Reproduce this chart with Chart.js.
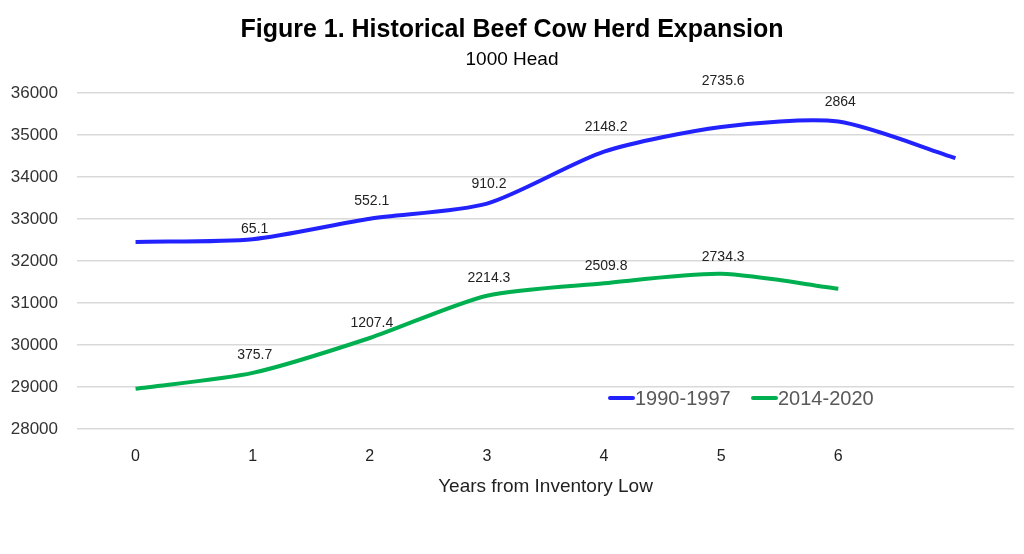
<!DOCTYPE html>
<html lang="en">
<head>
    <meta charset="UTF-8">
    <title>Historical Beef Cow Herd Expansion</title>
    <script src="https://cdn.jsdelivr.net/npm/chart.js"></script>
    <style>
        html, body { margin: 0; padding: 0; background: #fff; }
        #wrap { width: 1024px; height: 554px; position: relative; }
    </style>
</head>
<body>
    <div id="wrap"><canvas id="herdChart" width="1024" height="554"></canvas></div>

    <script>
        // years from inventory low (last category has no tick label)
        const years = ['0', '1', '2', '3', '4', '5', '6', ''];

        // 1000 head
        const herd1990 = [32455, 32520, 33007, 33365, 34603, 35191, 35319, 34450];
        const herd2014 = [28960, 29336, 30167, 31174, 31470, 31694, 31340];

        // growth from the low, shown above points
        const growth1990 = ['', '65.1', '552.1', '910.2', '2148.2', '2735.6', '2864', ''];
        const growth2014 = ['', '375.7', '1207.4', '2214.3', '2509.8', '2734.3', ''];

        const font = "'Liberation Sans', Arial, sans-serif";

        const headerPlugin = {
            id: 'header',
            afterDraw(chart) {
                const c = chart.ctx;
                c.save();
                c.fillStyle = '#000';
                c.textAlign = 'center';
                c.textBaseline = 'middle';
                c.font = "bold 25px " + font;
                c.fillText('Figure 1. Historical Beef Cow Herd Expansion', 512, 30);
                c.font = "19px " + font;
                c.fillText('1000 Head', 512, 60);

                // legend inside plot
                const items = [
                    { text: '1990-1997', color: '#2222ff', x: 610 },
                    { text: '2014-2020', color: '#00b050', x: 753 }
                ];
                c.font = "20px " + font;
                c.textAlign = 'left';
                items.forEach(it => {
                    c.strokeStyle = it.color;
                    c.lineWidth = 4;
                    c.lineCap = 'round';
                    c.beginPath();
                    c.moveTo(it.x, 398);
                    c.lineTo(it.x + 23, 398);
                    c.stroke();
                    c.fillStyle = '#595959';
                    c.fillText(it.text, it.x + 25, 399);
                });
                c.restore();
            }
        };

        const labelPlugin = {
            id: 'pointLabels',
            afterDatasetsDraw(chart, args, opts) {
                const c = chart.ctx;
                c.save();
                c.fillStyle = '#222';
                c.font = "14px " + font;
                c.textAlign = 'center';
                c.textBaseline = 'middle';
                chart.data.datasets.forEach((ds, i) => {
                    const meta = chart.getDatasetMeta(i);
                    meta.data.forEach((pt, j) => {
                        const txt = ds.growth[j];
                        const lift = (opts.lift[i] && opts.lift[i][j]) || 18;
                        if (txt) c.fillText(txt, pt.x + 2, pt.y - lift);
                    });
                });
                c.restore();
            }
        };

        const ctx = document.getElementById('herdChart').getContext('2d');
        new Chart(ctx, {
            type: 'line',
            data: {
                labels: years,
                datasets: [{
                    label: '1990-1997',
                    data: herd1990,
                    growth: growth1990,
                    borderColor: '#2222ff',
                    borderWidth: 4,
                    pointRadius: 0,
                    tension: 0.25
                }, {
                    label: '2014-2020',
                    data: herd2014,
                    growth: growth2014,
                    borderColor: '#00b050',
                    borderWidth: 4,
                    pointRadius: 0,
                    tension: 0.25
                }]
            },
            options: {
                responsive: false,
                animation: false,
                layout: { padding: { top: 93, right: 10, left: 0, bottom: 52 } },
                plugins: {
                    legend: { display: false },
                    tooltip: { enabled: false },
                    pointLabels: {
                        lift: [[0, 10, 18, 20, 25, 46, 19, 0], [0, 18, 15, 18, 17, 17, 0]]
                    }
                },
                scales: {
                    x: {
                        offset: true,
                        afterFit(scale) { scale.height = 73; },
                        grid: { display: false },
                        border: { display: false },
                        ticks: {
                            padding: 10,
                            color: '#222',
                            font: { family: font, size: 16 }
                        },
                        title: {
                            display: true,
                            text: 'Years from Inventory Low',
                            color: '#222',
                            font: { family: font, size: 19 },
                            padding: { top: 4, bottom: 4 }
                        }
                    },
                    y: {
                        min: 28000,
                        max: 36000,
                        afterFit(scale) { scale.width = 77; },
                        grid: { color: '#d9d9d9', lineWidth: 1.5, drawTicks: false },
                        border: { display: false },
                        ticks: {
                            stepSize: 1000,
                            padding: 19,
                            color: '#333',
                            font: { family: font, size: 17 },
                            callback: v => String(v)
                        }
                    }
                }
            },
            plugins: [headerPlugin, labelPlugin]
        });
    </script>
</body>
</html>
